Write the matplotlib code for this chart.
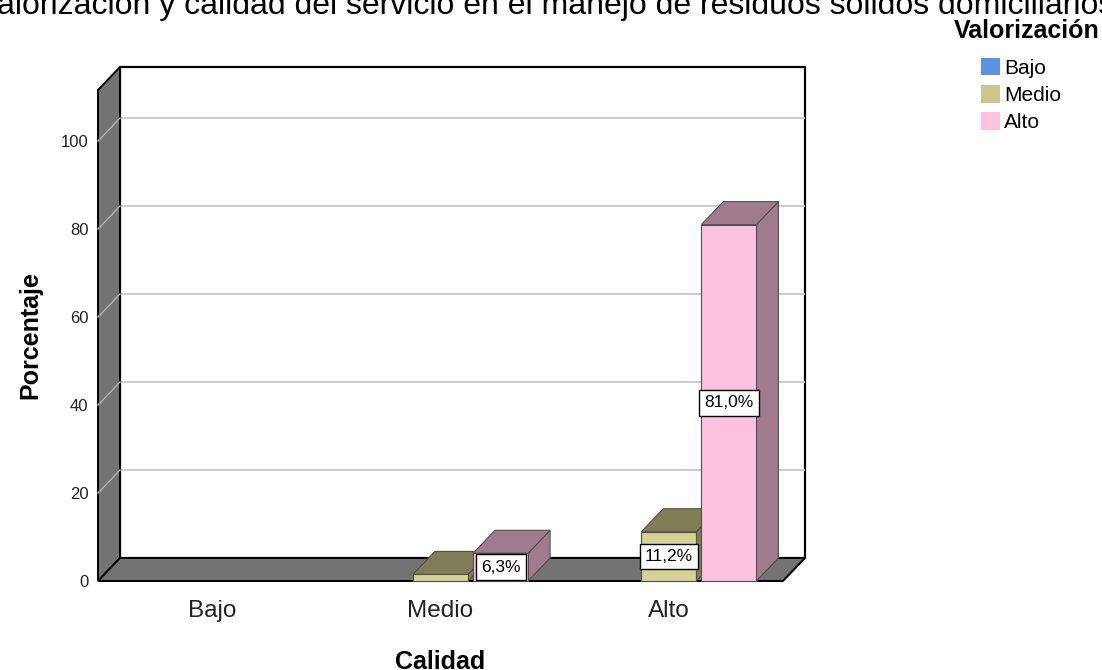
import matplotlib
matplotlib.use("Agg")
import matplotlib.pyplot as plt
from matplotlib.patches import Rectangle, Polygon, Patch

plt.rcParams['font.family'] = ['Liberation Sans', 'DejaVu Sans']

# ---- data ----
categories = ['Bajo', 'Medio', 'Alto']          # Calidad
series_names = ['Bajo', 'Medio', 'Alto']        # Valorización
val_bajo = [0.0, 0.0, 0.0]
val_medio = [0.0, 1.5, 11.2]
val_alto = [0.0, 6.3, 81.0]
yticks = [0, 20, 40, 60, 80, 100]
title = 'Valorización y calidad del servicio en el manejo de residuos sólidos domiciliarios'

series_values = [val_bajo, val_medio, val_alto]
front_colors = ['#5a93e0', '#d6d195', '#ffc1e0']
dark_colors = ['#3d5f92', '#817d57', '#9f7b8b']
legend_colors = ['#5b93e2', '#ccc68e', '#ffc1e0']

W, H = 1102, 670
fig = plt.figure(figsize=(W / 100, H / 100), dpi=100)
fig.patch.set_facecolor('white')

# front plane of the 3-D box
ax_l, ax_r, ax_t, ax_b = 98, 783, 90, 581
ax = fig.add_axes([ax_l / W, (H - ax_b) / H, (ax_r - ax_l) / W, (ax_b - ax_t) / H])
ax.patch.set_visible(False)
xmin, xmax = -0.5, len(categories) - 0.5
ymax = 111.6
ax.set_xlim(xmin, xmax)
ax.set_ylim(0, ymax)
for s in ax.spines.values():
    s.set_visible(False)

# depth of the box, in pixels, converted to data units
depth_px_x, depth_px_y = 22, 23
DX = depth_px_x * (xmax - xmin) / (ax_r - ax_l)
DY = depth_px_y * ymax / (ax_b - ax_t)

floor_grey = '#737373'

# back wall
ax.add_patch(Rectangle((xmin + DX, DY), xmax - xmin, ymax, facecolor='white',
                       edgecolor='black', lw=1.6, clip_on=False, zorder=1))
# left wall
ax.add_patch(Polygon([(xmin, 0), (xmin, ymax), (xmin + DX, ymax + DY), (xmin + DX, DY)],
                     closed=True, facecolor=floor_grey, edgecolor='black', lw=1.4,
                     clip_on=False, zorder=2))
# gridlines on back and side walls
for v in yticks[1:]:
    ax.plot([xmin + DX, xmax + DX], [v + DY, v + DY], color='#c8c8c8', lw=1.3,
            clip_on=False, zorder=1.5, solid_capstyle='butt')
    ax.plot([xmin, xmin + DX], [v, v + DY], color='#b4b4b4', lw=1.0,
            clip_on=False, zorder=2.5)
# floor
ax.add_patch(Polygon([(xmin, 0), (xmax, 0), (xmax + DX, DY), (xmin + DX, DY)],
                     closed=True, facecolor=floor_grey, edgecolor='black', lw=1.4,
                     clip_on=False, zorder=3))

# bars
n = len(series_names)
bw = 0.241
step = 0.263
z = 4
for i in range(len(categories)):
    for j in range(n):
        v = series_values[j][i]
        if v <= 0:
            continue
        x0 = i + (j - (n - 1) / 2) * step - bw / 2
        x1 = x0 + bw
        ec = '#505050'
        ax.add_patch(Polygon([(x1, 0), (x1 + DX, DY), (x1 + DX, v + DY), (x1, v)],
                             closed=True, facecolor=dark_colors[j], edgecolor=ec,
                             lw=0.8, clip_on=False, zorder=z))
        ax.add_patch(Polygon([(x0, v), (x1, v), (x1 + DX, v + DY), (x0 + DX, v + DY)],
                             closed=True, facecolor=dark_colors[j], edgecolor=ec,
                             lw=0.8, clip_on=False, zorder=z))
        ax.add_patch(Rectangle((x0, 0), bw, v, facecolor=front_colors[j], edgecolor=ec,
                               lw=0.8, clip_on=False, zorder=z + 0.5))
        if v >= 5:
            ax.text((x0 + x1) / 2, v / 2, f'{v:.1f}%'.replace('.', ','),
                    ha='center', va='center', fontsize=12.5, color='black', zorder=20,
                    bbox=dict(boxstyle='square,pad=0.3', facecolor='white',
                              edgecolor='black', lw=1.0))
        z += 1

# axes text
ax.set_yticks(yticks)
ax.set_yticklabels([str(t) for t in yticks], fontsize=12, color='#222222')
ax.tick_params(axis='y', length=0, pad=7)
ax.set_xticks(range(len(categories)))
ax.set_xticklabels(categories, fontsize=17.5, color='#222222')
ax.tick_params(axis='x', length=0, pad=14)
ax.set_xlabel('Calidad', fontsize=18, fontweight='bold', labelpad=20)
ax.set_ylabel('Porcentaje', fontsize=18, fontweight='bold', labelpad=13)

# title (wider than the canvas)
fig.text(0.496, 1 - 14 / H, title, ha='center', va='baseline', fontsize=23)

# legend
fig.text(1 - 2 / W, 1 - 31 / H, 'Valorización', ha='right', va='center',
         fontsize=18, fontweight='bold')
handles = [Patch(facecolor=c, edgecolor='none') for c in legend_colors]
fig.legend(handles, series_names, loc='upper left', bbox_to_anchor=(977 / W, 1 - 54 / H),
           frameon=False, fontsize=15, handlelength=0.9, handleheight=0.9,
           handletextpad=0.2, labelspacing=0.35, borderpad=0.2, borderaxespad=0)

fig.savefig('out.png', dpi=100, facecolor='white')
